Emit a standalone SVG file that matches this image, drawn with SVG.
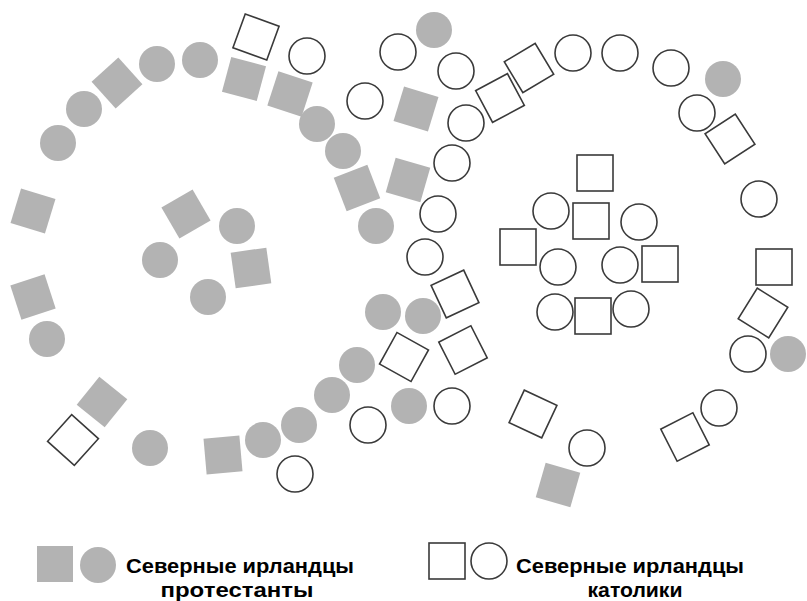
<svg xmlns="http://www.w3.org/2000/svg" xmlns:xlink="http://www.w3.org/1999/xlink" width="807" height="601" viewBox="0 0 807 601">
<style>
.p{fill:#b3b3b3;stroke:none}
.c{fill:#ffffff;stroke:#3a3a3a;stroke-width:1.6}
.t{font-family:"Liberation Sans Narrow","Liberation Sans",Arial,sans-serif;font-weight:bold;font-size:20.5px;fill:#000}
</style>
<defs>
<rect id="sq" x="-18" y="-18" width="36" height="36"/>
<circle id="ci" r="18"/>
</defs>
<rect width="807" height="601" fill="#ffffff"/>
<g id="protestants">
<use href="#ci" class="p" x="200" y="60"/>
<use href="#ci" class="p" x="157" y="64"/>
<use href="#ci" class="p" x="84" y="109"/>
<use href="#ci" class="p" x="58" y="143"/>
<use href="#ci" class="p" x="237" y="226"/>
<use href="#ci" class="p" x="317" y="124"/>
<use href="#ci" class="p" x="343" y="151"/>
<use href="#ci" class="p" x="376" y="226"/>
<use href="#ci" class="p" x="434" y="30"/>
<use href="#ci" class="p" x="160" y="260"/>
<use href="#ci" class="p" x="208" y="297"/>
<use href="#ci" class="p" x="47" y="339"/>
<use href="#ci" class="p" x="150" y="448"/>
<use href="#ci" class="p" x="263" y="440"/>
<use href="#ci" class="p" x="383" y="312"/>
<use href="#ci" class="p" x="423" y="316"/>
<use href="#ci" class="p" x="357" y="365"/>
<use href="#ci" class="p" x="332" y="395"/>
<use href="#ci" class="p" x="299" y="425"/>
<use href="#ci" class="p" x="409" y="406"/>
<use href="#ci" class="p" x="723" y="79"/>
<use href="#ci" class="p" x="788" y="354"/>
<use href="#sq" class="p" transform="translate(244,79) rotate(15)"/>
<use href="#sq" class="p" transform="translate(117,83) rotate(-42)"/>
<use href="#sq" class="p" transform="translate(33,211) rotate(17)"/>
<use href="#sq" class="p" transform="translate(186,214) rotate(-30)"/>
<use href="#sq" class="p" transform="translate(290,94) rotate(18)"/>
<use href="#sq" class="p" transform="translate(357,188) rotate(-21)"/>
<use href="#sq" class="p" transform="translate(416,109) rotate(17)"/>
<use href="#sq" class="p" transform="translate(408,180) rotate(16)"/>
<use href="#sq" class="p" transform="translate(251,268) rotate(-8)"/>
<use href="#sq" class="p" transform="translate(33,297) rotate(-18)"/>
<use href="#sq" class="p" transform="translate(102,402) rotate(39)"/>
<use href="#sq" class="p" transform="translate(223,455) rotate(-5)"/>
<use href="#sq" class="p" transform="translate(558,485) rotate(16)"/>
</g>
<g id="catholics">
<use href="#ci" class="c" x="307" y="56"/>
<use href="#ci" class="c" x="365" y="101"/>
<use href="#ci" class="c" x="398" y="52"/>
<use href="#ci" class="c" x="456" y="71"/>
<use href="#ci" class="c" x="466" y="123"/>
<use href="#ci" class="c" x="452" y="163"/>
<use href="#ci" class="c" x="438" y="214"/>
<use href="#ci" class="c" x="425" y="257"/>
<use href="#ci" class="c" x="573" y="53"/>
<use href="#ci" class="c" x="620" y="53"/>
<use href="#ci" class="c" x="671" y="68"/>
<use href="#ci" class="c" x="697" y="113"/>
<use href="#ci" class="c" x="759" y="199"/>
<use href="#ci" class="c" x="551" y="211"/>
<use href="#ci" class="c" x="639" y="222"/>
<use href="#ci" class="c" x="558" y="267"/>
<use href="#ci" class="c" x="620" y="265"/>
<use href="#ci" class="c" x="555" y="312"/>
<use href="#ci" class="c" x="631" y="309"/>
<use href="#ci" class="c" x="748" y="354"/>
<use href="#ci" class="c" x="719" y="408"/>
<use href="#ci" class="c" x="587" y="448"/>
<use href="#ci" class="c" x="368" y="425"/>
<use href="#ci" class="c" x="452" y="406"/>
<use href="#ci" class="c" x="295" y="474"/>
<use href="#sq" class="c" transform="translate(256,37) rotate(20)"/>
<use href="#sq" class="c" transform="translate(500,98) rotate(-28)"/>
<use href="#sq" class="c" transform="translate(529,68) rotate(-31)"/>
<use href="#sq" class="c" transform="translate(730,139) rotate(-33)"/>
<use href="#sq" class="c" transform="translate(595,173)"/>
<use href="#sq" class="c" transform="translate(591,221)"/>
<use href="#sq" class="c" transform="translate(518,247)"/>
<use href="#sq" class="c" transform="translate(660,264)"/>
<use href="#sq" class="c" transform="translate(774,267)"/>
<use href="#sq" class="c" transform="translate(593,316)"/>
<use href="#sq" class="c" transform="translate(763,313) rotate(32)"/>
<use href="#sq" class="c" transform="translate(455,294) rotate(-25)"/>
<use href="#sq" class="c" transform="translate(404,357) rotate(29)"/>
<use href="#sq" class="c" transform="translate(463,350) rotate(-27)"/>
<use href="#sq" class="c" transform="translate(533,414) rotate(25)"/>
<use href="#sq" class="c" transform="translate(685,437) rotate(-27)"/>
<use href="#sq" class="c" transform="translate(73,440) rotate(42)"/>
</g>
<g id="legend-protestants">
<use href="#sq" class="p" x="55" y="564"/>
<use href="#ci" class="p" x="98" y="565"/>
<text class="t" x="240" y="573" text-anchor="middle" textLength="228" lengthAdjust="spacingAndGlyphs">Северные ирландцы</text>
<text class="t" x="237" y="597" text-anchor="middle" textLength="153" lengthAdjust="spacingAndGlyphs">протестанты</text>
</g>
<g id="legend-catholics">
<use href="#sq" class="c" x="447" y="561"/>
<use href="#ci" class="c" x="489" y="561"/>
<text class="t" x="630" y="573" text-anchor="middle" textLength="228" lengthAdjust="spacingAndGlyphs">Северные ирландцы</text>
<text class="t" x="635" y="597" text-anchor="middle" textLength="95" lengthAdjust="spacingAndGlyphs">католики</text>
</g>
</svg>
